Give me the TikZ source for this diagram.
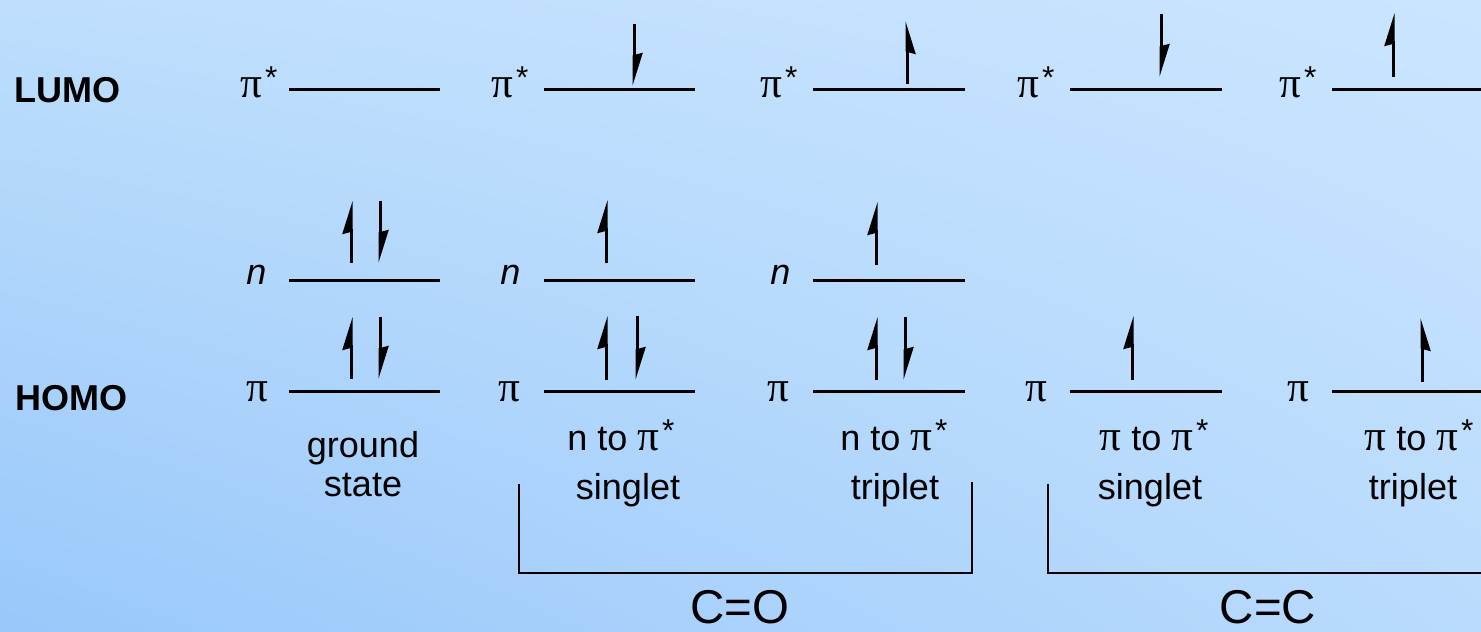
\documentclass[tikz,border=0pt]{standalone}
\usepackage{fontspec}
\setmainfont{Liberation Sans}
\newfontfamily\greekfont[Scale=1.2]{Liberation Serif}
\usetikzlibrary{arrows.meta,shadings}

\definecolor{bgUL}{RGB}{190,222,252}
\definecolor{bgUR}{RGB}{202,229,255}
\definecolor{bgLL}{RGB}{152,200,250}
\definecolor{bgLR}{RGB}{186,219,253}

\newcommand{\pisym}{{\greekfont π}}
\newcommand{\pistar}{{\greekfont π}\kern0.08em\raisebox{0.26em}{\fontsize{18}{18}\selectfont *}}

\begin{document}
\begin{tikzpicture}[
			x = 0.02cm, y = 0.02cm, % one unit is one pixel of the sketch
			font = \fontsize{20.5}{24}\selectfont
			]
			
			\tikzstyle{level}=[line width = 0.06cm]
			\tikzstyle{brk}=[line width = 0.03cm]
			\tikzstyle{upL}=[line width = 0.06cm, -{Stealth[left, length = 0.56cm, width = 0.34cm, inset = 0.04cm]}]
			\tikzstyle{upR}=[line width = 0.06cm, -{Stealth[right, length = 0.56cm, width = 0.34cm, inset = 0.04cm]}]
			\tikzstyle{dnR}=[line width = 0.06cm, -{Stealth[left, length = 0.56cm, width = 0.34cm, inset = 0.04cm]}]
			\tikzstyle{orb}=[anchor = base west, inner sep = 0pt]
			\tikzstyle{txt}=[anchor = base, inner sep = 0pt]
			
			% background
			\shade[upper left = bgUL, upper right = bgUR, lower left = bgLL, lower right = bgLR]
			(0,0) rectangle (1481,632);
			\useasboundingbox (0,0) rectangle (1481,632);
			
			\node[orb, font = \bfseries\fontsize{20.5}{24}\selectfont] (lumo) at (14,529) {LUMO};
			\node[orb, font = \bfseries\fontsize{20.5}{24}\selectfont] (homo) at (15,221) {HOMO};
			
			% levels
			\draw[level] (289,542) -- ++(151,0) (544,542) -- ++(151,0) (813,542) -- ++(152,0)
			(1070,542) -- ++(152,0) (1332,542) -- ++(149,0);
			\draw[level] (289,351) -- ++(151,0) (544,351) -- ++(151,0) (813,351) -- ++(152,0);
			\draw[level] (289,240) -- ++(151,0) (544,240) -- ++(151,0) (813,240) -- ++(152,0)
			(1070,240) -- ++(152,0) (1332,240) -- ++(149,0);
			
			% level labels
			\node[orb] (lA) at (240,534) {\pistar};
			\node[orb] (lB) at (491,534) {\pistar};
			\node[orb] (lC) at (760,534) {\pistar};
			\node[orb] (lD) at (1017,534) {\pistar};
			\node[orb] (lE) at (1279,534) {\pistar};
			\node[orb] (nA) at (246,347) {\textit{n}};
			\node[orb] (nB) at (500,347) {\textit{n}};
			\node[orb] (nC) at (770,347) {\textit{n}};
			\node[orb] (hA) at (246,230) {\pisym};
			\node[orb] (hB) at (498,230) {\pisym};
			\node[orb] (hC) at (767,230) {\pisym};
			\node[orb] (hD) at (1025,230) {\pisym};
			\node[orb] (hE) at (1287,230) {\pisym};
			
			% electrons
			\draw[upL] (351,369) -- (351,431);
			\draw[dnR] (380,431) -- (380,369);
			\draw[upL] (351,253) -- (351,315);
			\draw[dnR] (380,315) -- (380,253);
			\draw[dnR] (634,608) -- (634,546);
			\draw[upL] (606,369) -- (606,432);
			\draw[upL] (606,252) -- (606,316);
			\draw[dnR] (637,316) -- (637,252);
			\draw[upR] (907,548) -- (907,611);
			\draw[upL] (876,367) -- (876,430);
			\draw[upL] (876,252) -- (876,315);
			\draw[dnR] (905,315) -- (905,252);
			\draw[dnR] (1161,618) -- (1161,555);
			\draw[upL] (1132,252) -- (1132,316);
			\draw[upL] (1393,555) -- (1393,619);
			\draw[upR] (1422,250) -- (1422,314);
			
			% states
			\node[txt] (gs1) at (363,174) {ground};
			\node[txt] (gs2) at (363,135) {state};
			\node[txt] (ns1) at (621,181) {n to \pistar};
			\node[txt] (ns2) at (628,132) {singlet};
			\node[txt] (nt1) at (894,181) {n to \pistar};
			\node[txt] (nt2) at (895,132) {triplet};
			\node[txt] (ps1) at (1154,181) {\pisym\ to \pistar};
			\node[txt] (ps2) at (1150,132) {singlet};
			\node[txt] (pt1) at (1419,181) {\pisym\ to \pistar};
			\node[txt] (pt2) at (1413,132) {triplet};
			
			% groups
			\draw[brk] (519,148) |- (972,59) -- (972,150);
			\draw[brk] (1048,148) |- (1481,59);
			\node[txt, font = \fontsize{27}{30}\selectfont] (co) at (740,8) {C=O};
			\node[txt, font = \fontsize{27}{30}\selectfont] (cc) at (1268,8) {C=C};
			
		\end{tikzpicture}
\end{document}
